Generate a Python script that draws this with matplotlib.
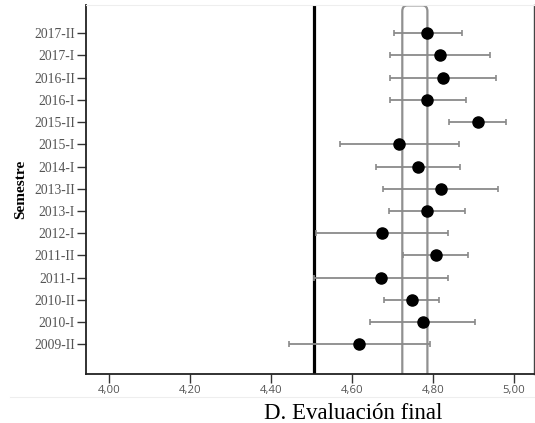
import matplotlib
matplotlib.use("Agg")
import matplotlib.pyplot as plt
from matplotlib.patches import FancyBboxPatch
from matplotlib.ticker import FuncFormatter

# Semesters, listed bottom to top
semestres = ["2009-II", "2010-I", "2010-II", "2011-I", "2011-II", "2012-I",
             "2013-I", "2013-II", "2014-I", "2015-I", "2015-II", "2016-I",
             "2016-II", "2017-I", "2017-II"]
media = [4.618, 4.774, 4.747, 4.672, 4.808, 4.674, 4.786, 4.819, 4.762,
         4.715, 4.911, 4.786, 4.824, 4.818, 4.786]
ic_inf = [4.444, 4.645, 4.680, 4.506, 4.726, 4.512, 4.692, 4.677, 4.658,
          4.569, 4.840, 4.693, 4.693, 4.693, 4.703]
ic_sup = [4.793, 4.904, 4.815, 4.838, 4.887, 4.836, 4.880, 4.961, 4.867,
          4.865, 4.980, 4.881, 4.955, 4.941, 4.871]

media_global = 4.505
banda_ref = (4.724, 4.786)
x_ticks = [4.00, 4.20, 4.40, 4.60, 4.80, 5.00]

fig = plt.figure(figsize=(5.35, 4.23), dpi=100)
ax = fig.add_axes([0.1607, 0.1158, 0.8373, 0.8724])

ypos = list(range(len(semestres)))
x_min, x_max = 3.943, 5.049
ax.set_xlim(x_min, x_max)
ax.set_ylim(-1.34, 15.27)

# reference band: two grey lines joined by a rounded top
w = banda_ref[1] - banda_ref[0]
band = FancyBboxPatch((banda_ref[0], -3), w, 15.27 + 3 - 0.02,
                      boxstyle="round,pad=0,rounding_size=0.012",
                      mutation_aspect=22.0,
                      fill=False, edgecolor="#909090", linewidth=1.6,
                      zorder=1, clip_on=True)
ax.add_patch(band)

# overall mean
ax.axvline(media_global, color="black", linewidth=2.3, zorder=2)

# confidence intervals
err_lo = [m - lo for m, lo in zip(media, ic_inf)]
err_hi = [hi - m for m, hi in zip(media, ic_sup)]
ax.errorbar(media, ypos, xerr=[err_lo, err_hi], fmt="none",
            ecolor="#8a8a8a", elinewidth=1.3, capsize=2.0, capthick=1.2,
            zorder=3)
ax.plot(media, ypos, "o", color="black", markersize=8, zorder=4)

ax.set_yticks(ypos)
ax.set_yticklabels(semestres, family="Liberation Serif", fontsize=9.8,
                   color="#555555")
ax.set_xticks(x_ticks)
ax.xaxis.set_major_formatter(FuncFormatter(lambda v, p: f"{v:.2f}".replace(".", ",")))
for lab in ax.get_xticklabels():
    lab.set_family("Open Sans")
    lab.set_fontsize(8.2)
    lab.set_color("#555555")
ax.tick_params(axis="both", length=6.5, width=1.0, color="#333333", pad=1.5)

for s in ["left", "bottom"]:
    ax.spines[s].set_linewidth(1.3)
    ax.spines[s].set_color("#222222")
ax.spines["right"].set_linewidth(1.0)
ax.spines["right"].set_color("#444444")
ax.spines["top"].set_color("#eeeeee")
ax.spines["top"].set_linewidth(0.8)

ax.set_ylabel("Semestre", family="Liberation Serif", fontweight="bold",
              fontsize=11, labelpad=5)
fig.text(353 / 535, 1 - 419 / 423, "D. Evaluación final",
         family="Liberation Serif", fontsize=16.5, ha="center", va="baseline")

# faint frame line under the tick labels
fig.add_artist(plt.Line2D([10 / 535, 1.0], [1 - 397 / 423] * 2,
                          color="#eeeeee", linewidth=0.8))

fig.savefig("out.png", dpi=100)
